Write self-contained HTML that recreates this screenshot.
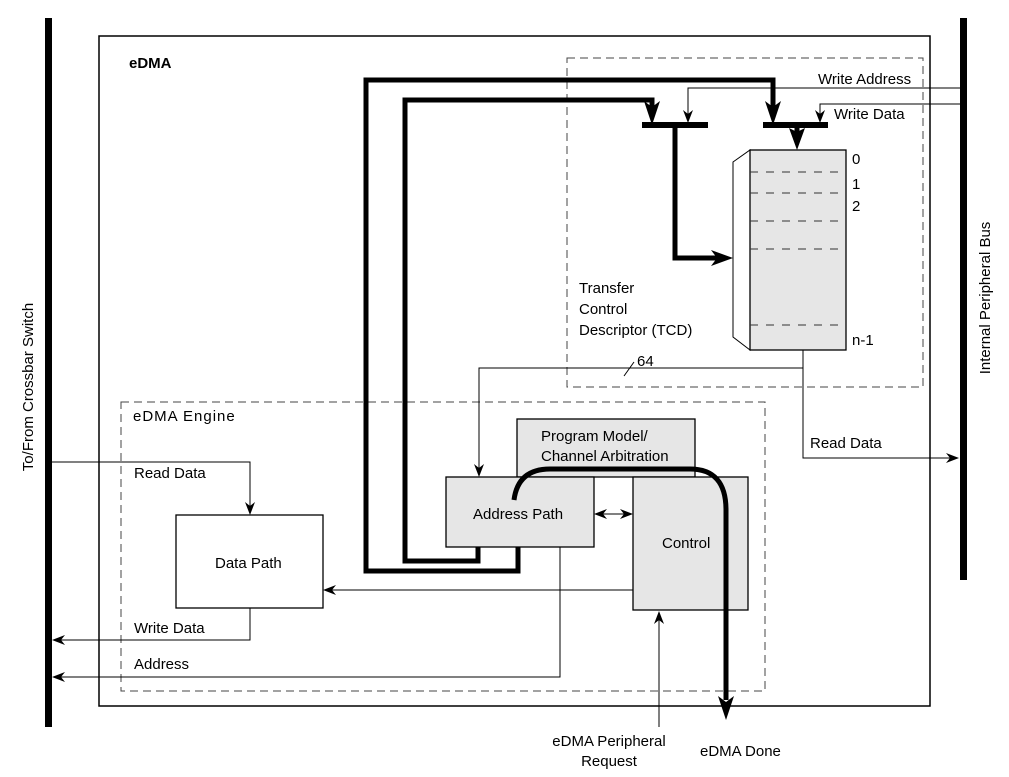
<!DOCTYPE html>
<html><head><style>body{margin:0;background:#fff}svg{display:block}text{font-family:"Liberation Sans",sans-serif;font-size:15px;fill:#000}</style></head><body>
<svg width="1009" height="777" viewBox="0 0 1009 777" xmlns="http://www.w3.org/2000/svg">
<rect x="45" y="18" width="7" height="709" fill="#000"/>
<rect x="960" y="18" width="7" height="562" fill="#000"/>
<rect x="99" y="36" width="831" height="670" fill="none" stroke="#000" stroke-width="1.5"/>
<rect x="567" y="58" width="356" height="329" fill="none" stroke="#444" stroke-dasharray="8,5"/>
<rect x="121" y="402" width="644" height="289" fill="none" stroke="#444" stroke-dasharray="8,5"/>
<text x="129" y="68" font-weight="bold">eDMA</text>
<text x="133" y="421" style="letter-spacing:1px">eDMA Engine</text>
<!-- TCD -->
<polygon points="733,162 750,150 750,350 733,337" fill="#fff" stroke="#000"/>
<rect x="750" y="150" width="96" height="200" fill="#e6e6e6" stroke="#000" stroke-width="1.3"/>
<g stroke="#333" stroke-dasharray="8,8"><line x1="750" y1="172" x2="846" y2="172"/><line x1="750" y1="193" x2="846" y2="193"/><line x1="750" y1="221" x2="846" y2="221"/><line x1="750" y1="249" x2="846" y2="249"/><line x1="750" y1="325" x2="846" y2="325"/></g>
<text x="852" y="164">0</text><text x="852" y="189">1</text><text x="852" y="211">2</text><text x="852" y="345">n-1</text>
<text x="579" y="293">Transfer</text><text x="579" y="314">Control</text><text x="579" y="335">Descriptor (TCD)</text>
<!-- thick paths -->
<g fill="none" stroke="#000" stroke-width="5">
<polyline points="518,547 518,571 366,571 366,80 773,80 773,107"/>
<polyline points="478,547 478,561 405,561 405,100 652,100 652,107"/>
<polyline points="675,125 675,258 717,258"/>
<polyline points="797,125 797,132"/>
</g>
<g fill="#000">
<path d="M644,101 L652,125 L660,101 L652,107z"/>
<path d="M765,101 L773,125 L781,101 L773,107z"/>
<path d="M789,128 L797,150 L805,128 L797,132z"/>
<path d="M711,250 L733,258 L711,266 L717,258z"/>
<path d="M718,696 L726,720 L734,696 L726,702z"/>
</g>
<rect x="642" y="122" width="66" height="6" fill="#000"/>
<rect x="763" y="122" width="65" height="6" fill="#000"/>
<g fill="none" stroke="#000" stroke-width="1">
<polyline points="960,88 688,88 688,118"/>
<polyline points="960,104 820,104 820,118"/>
<polyline points="803,350 803,458 954,458"/>
<polyline points="803,368 479,368 479,472"/>
<line x1="624" y1="376" x2="634" y2="362"/>
<polyline points="52,462 250,462 250,511"/>
<polyline points="633,590 327,590"/>
<polyline points="250,608 250,640 56,640"/>
<polyline points="560,547 560,677 56,677"/>
<polyline points="659,727 659,615"/>
<line x1="598" y1="514" x2="629" y2="514"/>
</g>
<g fill="#000">
<path d="M683,110 L688,123 L693,110 L688,114z"/>
<path d="M815,110 L820,123 L825,110 L820,114z"/>
<path d="M946,453 L959,458 L946,463 L950,458z"/>
<path d="M474,464 L479,477 L484,464 L479,468z"/>
<path d="M245,502 L250,515 L255,502 L250,506z"/>
<path d="M336,585 L323,590 L336,595 L332,590z"/>
<path d="M65,635 L52,640 L65,645 L61,640z"/>
<path d="M65,672 L52,677 L65,682 L61,677z"/>
<path d="M654,624 L659,611 L664,624 L659,620z"/>
<path d="M607,509 L594,514 L607,519 L603,514z"/>
<path d="M620,509 L633,514 L620,519 L624,514z"/>
</g>
<text x="637" y="366">64</text>
<text x="810" y="448">Read Data</text>
<text x="818" y="84">Write Address</text>
<text x="834" y="119">Write Data</text>
<text x="134" y="478">Read Data</text>
<text x="134" y="633">Write Data</text>
<text x="134" y="669">Address</text>
<!-- boxes -->
<rect x="517" y="419" width="178" height="58" fill="#e6e6e6" stroke="#000" stroke-width="1.3"/>
<text x="541" y="441">Program Model/</text><text x="541" y="461">Channel Arbitration</text>
<rect x="446" y="477" width="148" height="70" fill="#e6e6e6" stroke="#000" stroke-width="1.3"/>
<text x="473" y="519">Address Path</text>
<rect x="633" y="477" width="115" height="133" fill="#e6e6e6" stroke="#000" stroke-width="1.3"/>
<text x="662" y="548">Control</text>
<rect x="176" y="515" width="147" height="93" fill="#fff" stroke="#000" stroke-width="1.3"/>
<text x="215" y="568">Data Path</text>
<path d="M514,500 Q518,469 550,469 L690,469 Q726,469 726,510 L726,700" fill="none" stroke="#000" stroke-width="5"/>
<text x="609" y="746" text-anchor="middle">eDMA Peripheral</text>
<text x="609" y="766" text-anchor="middle">Request</text>
<text x="700" y="756">eDMA Done</text>
<text transform="translate(33,387) rotate(-90)" text-anchor="middle">To/From Crossbar Switch</text>
<text transform="translate(990,298) rotate(-90)" text-anchor="middle">Internal Peripheral Bus</text>
</svg>
</body></html>
